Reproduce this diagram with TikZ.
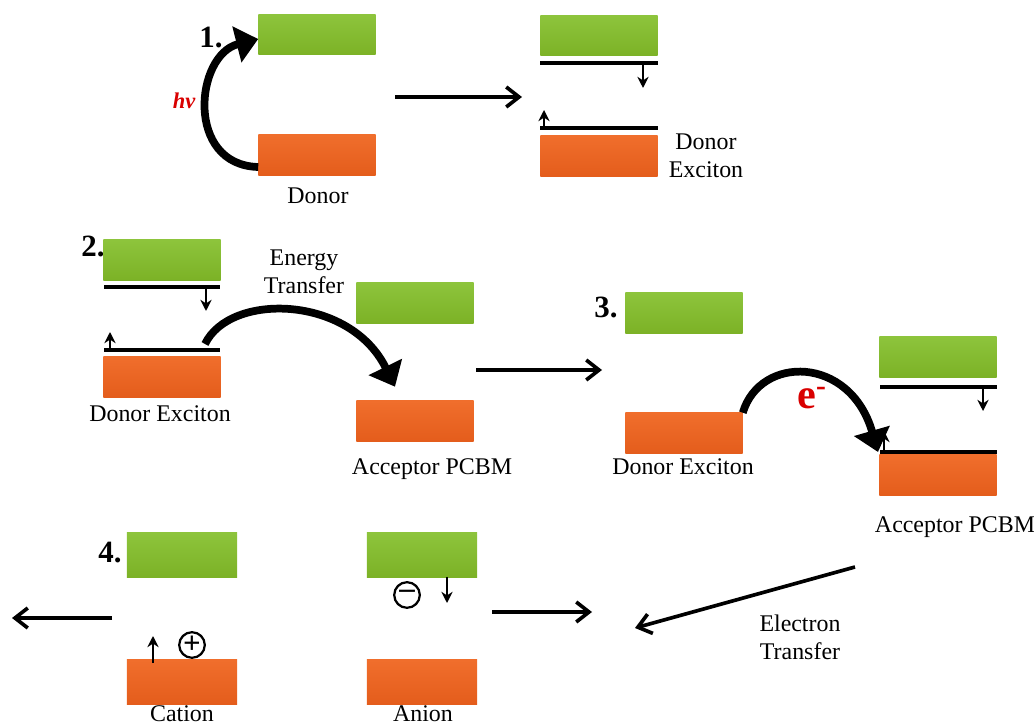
\documentclass[tikz,border=0pt]{standalone}
\usepackage{fontspec}
\setmainfont{Liberation Serif}
\usetikzlibrary{arrows.meta}

\definecolor{lumo}{HTML}{7CB226}
\definecolor{lumotop}{HTML}{8DC43C}
\definecolor{homo}{HTML}{E45D1C}
\definecolor{homotop}{HTML}{F06E2C}

\tikzset{
  gbar/.style={rectangle,minimum width=2.925cm,minimum height=1cm,inner sep=0pt,
    top color=lumotop,bottom color=lumo,draw=none},
  obar/.style={rectangle,minimum width=2.925cm,minimum height=1cm,inner sep=0pt,
    top color=homotop,bottom color=homo,draw=none},
  level/.style={line width=2.4pt,black},
  spin/.style={line width=1.4pt,-{Stealth[length=2.8mm,width=2.8mm]}},
  hop/.style={line width=5.5pt,-{Triangle[length=5.5mm,width=9mm]}},
  go/.style={line width=2.6pt,-{Straight Barb[length=3.2mm,width=5mm,line width=2.6pt]}},
  lbl/.style={font=\fontsize{17}{20}\selectfont,align=center,inner sep=0pt},
  num/.style={font=\fontsize{22}{24}\selectfont\bfseries,inner sep=0pt},
  charge/.style={circle,draw,line width=1.6pt,minimum size=0.64cm,inner sep=0pt,
    font=\fontsize{22}{22}\selectfont\bfseries}
}

\begin{document}
\begin{tikzpicture}[x=0.025cm,y=-0.025cm]
\useasboundingbox (0,0) rectangle (1034,727);

% 1. excitation
\node[num] (n1) at (211,38) {1.};
\node[gbar] (d1g) at (317,35) {};
\node[obar] (d1o) at (317,155) {};
\node[lbl] (d1l) at (318,196) {Donor};
\draw[hop] ([yshift=-0.3cm]d1o.west) .. controls (185,165) and (195,55) .. ([yshift=-0.1cm]d1g.west);
\node[font=\fontsize{16}{16}\selectfont\bfseries\itshape,text=red!85!black] (hv) at (184,101) {hν};

\coordinate (a1s) at (395,97);
\coordinate (a1e) at (522,97);
\draw[go] (a1s) -- (a1e);

\node[gbar] (d1xg) at (599,36) {};
\node[obar] (d1xo) at (599,156) {};
\draw[level] (540,63) -- (658,63);
\draw[level] (540,128) -- (658,128);
\draw[spin] (643,63) -- (643,88);
\draw[spin] (544,128) -- (544,110);
\node[lbl] (d1xl) at (706,156) {Donor\\Exciton};

% 2. energy transfer
\node[num] (n2) at (93,246) {2.};
\node[gbar] (d2g) at (162,260) {};
\node[obar] (d2o) at (162,377) {};
\draw[level] (104,287) -- (220,287);
\draw[level] (104,350) -- (220,350);
\draw[spin] (206,287) -- (206,311);
\draw[spin] (110,350) -- (110,332);
\node[lbl] (d2l) at (160,414) {Donor Exciton};

\node[gbar] (a2g) at (415,303) {};
\node[obar] (a2o) at (415,421) {};
\node[lbl] (a2l) at (432,469) {Acceptor PCBM};
\node[lbl] (etl) at (304,272) {Energy\\Transfer};
\draw[hop] (205,344) .. controls (230,292) and (350,295) .. ([xshift=-0.5cm,yshift=0.35cm]a2o.north);

\coordinate (a2s) at (476,370);
\coordinate (a2e) at (602,370);
\draw[go] (a2s) -- (a2e);

% 3. electron transfer
\node[num] (n3) at (606,307) {3.};
\node[gbar] (d3g) at (684,313) {};
\node[obar] (d3o) at (684,433) {};
\node[lbl] (d3l) at (683,467) {Donor Exciton};

\node[gbar] (a3g) at (938,357) {};
\node[obar] (a3o) at (938,475) {};
\draw[level] (880,387) -- (997,387);
\draw[level] (880,452) -- (997,452);
\draw[spin] (983,387) -- (983,411);
\draw[spin] (884,452) -- (884,431);
\node[lbl] (a3l) at (955,527) {Acceptor PCBM};

\draw[hop] (d3o.north east) .. controls (760,355) and (850,355) .. (878,452);
\node[font=\fontsize{30}{30}\selectfont\bfseries,text=red!85!black,inner sep=0pt] (el) at (812,398) {e\textsuperscript{-}};

\coordinate (ets) at (855,567);
\coordinate (ete) at (635,628);
\draw[go] (ets) -- (ete);
\node[lbl] (etl2) at (800,637) {Electron\\Transfer};

% 4. charge separation
\node[num] (n4) at (110,553) {4.};
\node[gbar,minimum width=2.75cm,minimum height=1.1cm] (cg) at (182,555) {};
\node[obar,minimum width=2.75cm,minimum height=1.1cm] (co) at (182,682) {};
\draw[spin] (153,663) -- (153,636);
\node[charge] (plus) at (192,645) {+};
\node[lbl] (cl) at (182,714) {Cation};

\node[gbar,minimum width=2.75cm,minimum height=1.1cm] (ag) at (422,555) {};
\node[obar,minimum width=2.75cm,minimum height=1.1cm] (ao) at (422,682) {};
\draw[spin] (447,577) -- (447,603);
\node[charge] (minus) at (407,595) {\raisebox{0.05em}{–}};
\node[lbl] (al) at (423,714) {Anion};

\coordinate (a4s) at (492,612);
\coordinate (a4e) at (592,612);
\draw[go] (a4s) -- (a4e);
\coordinate (a3s) at (112,618);
\coordinate (a3e) at (12,618);
\draw[go] (a3s) -- (a3e);
\end{tikzpicture}
\end{document}
